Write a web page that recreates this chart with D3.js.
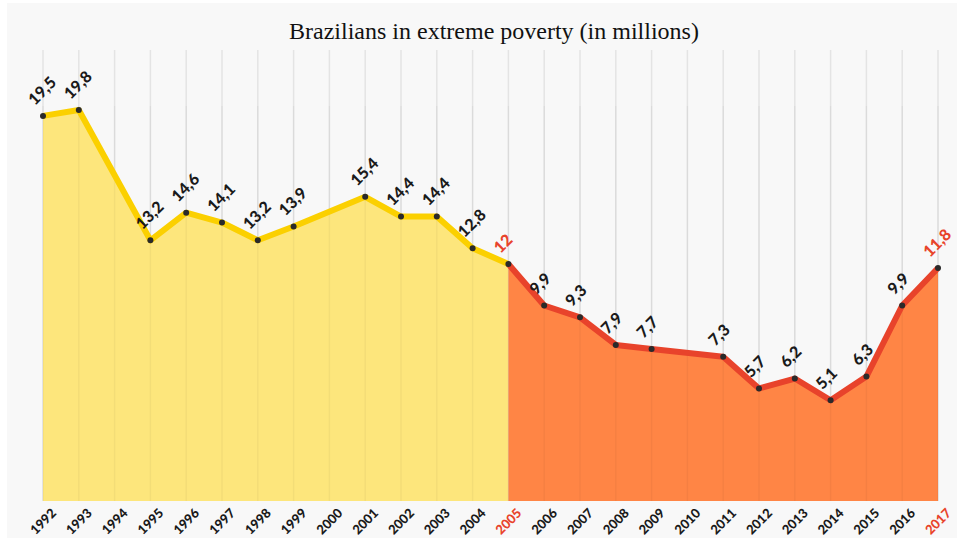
<!DOCTYPE html>
<html>
<head>
<meta charset="utf-8">
<script src="https://cdn.jsdelivr.net/npm/d3@7"></script>
<style>
  body { margin: 0; background: #ffffff; }
  #chart { width: 964px; height: 545px; }
</style>
</head>
<body>
<div id="chart"></div>
<script>
// years shown on the axis (every year has a grid line)
let tickYears = d3.range(1992, 2018)
// years with a measured value (1994, 2000 and 2010 have none)
let years = [1992, 1993, 1995, 1996, 1997, 1998, 1999, 2001, 2002, 2003, 2004, 2005,
  2006, 2007, 2008, 2009, 2011, 2012, 2013, 2014, 2015, 2016, 2017]
let values = [19.5, 19.8, 13.2, 14.6, 14.1, 13.2, 13.9, 15.4, 14.4, 14.4, 12.8, 12,
  9.9, 9.3, 7.9, 7.7, 7.3, 5.7, 6.2, 5.1, 6.3, 9.9, 11.8]
let splitYear = 2005
let redYears = [2005, 2017]

let width = 964
let height = 545
let diag = 'matrix(0.7071,-0.7071,0.7071,0.7071,0,0)' // -45 degrees

let svg = d3.select('#chart')
  .append('svg')
    .attr('width', width)
    .attr('height', height)

// light grey panel
svg.append('rect')
  .attr('x', 7)
  .attr('y', 3)
  .attr('width', 950)
  .attr('height', 535)
  .attr('fill', '#f8f8f8')

let xScale = d3.scaleLinear().domain([1992, 2017]).range([43, 938])
let yScale = d3.scaleLinear().domain([0, 20]).range([501, 106])

let data = years.map((y, i) => { return { year: y, value: values[i] } })
let firstPart = data.filter((d) => d.year <= splitYear)
let secondPart = data.filter((d) => d.year >= splitYear)

// Title
svg.append('text')
  .attr('x', 494)
  .attr('y', 39)
  .attr('text-anchor', 'middle')
  .attr('font-family', 'Liberation Serif, Times New Roman, serif')
  .attr('font-size', 24)
  .attr('fill', '#111')
  .text('Brazilians in extreme poverty (in millions)')

// Grid lines
svg.append('g')
  .selectAll('line')
  .data(tickYears)
  .enter().append('line')
    .attr('x1', (d) => xScale(d))
    .attr('x2', (d) => xScale(d))
    .attr('y1', 50)
    .attr('y2', yScale(0))
    .attr('stroke', '#e4e4e4')
    .attr('stroke-width', 1.5)

let area = d3.area()
  .x((d) => xScale(d.year))
  .y0(yScale(0))
  .y1((d) => yScale(d.value))

let line = d3.line()
  .x((d) => xScale(d.year))
  .y((d) => yScale(d.value))

svg.append('path')
  .datum(firstPart)
  .attr('d', area)
  .attr('fill', '#fde67c')

svg.append('path')
  .datum(secondPart)
  .attr('d', area)
  .attr('fill', '#ff8545')

// grid lines show faintly through the fill
svg.append('g')
  .selectAll('line')
  .data(tickYears)
  .enter().append('line')
    .attr('x1', (d) => xScale(d))
    .attr('x2', (d) => xScale(d))
    .attr('y1', yScale(20))
    .attr('y2', yScale(0))
    .attr('stroke', '#000')
    .attr('stroke-opacity', 0.04)
    .attr('stroke-width', 1.5)

svg.append('path')
  .datum(firstPart)
  .attr('d', line)
  .attr('fill', 'none')
  .attr('stroke', '#fbd000')
  .attr('stroke-width', 6)
  .attr('stroke-linejoin', 'round')

svg.append('path')
  .datum(secondPart)
  .attr('d', line)
  .attr('fill', 'none')
  .attr('stroke', '#e8432b')
  .attr('stroke-width', 6)
  .attr('stroke-linejoin', 'round')

// Points
svg.append('g')
  .selectAll('circle')
  .data(data)
  .enter().append('circle')
    .attr('cx', (d) => xScale(d.year))
    .attr('cy', (d) => yScale(d.value))
    .attr('r', 3)
    .attr('fill', '#2a2a2a')

// Value labels
svg.append('g')
  .selectAll('g')
  .data(data)
  .enter().append('g')
    .attr('transform', (d) => `translate(${xScale(d.year) - 8},${yScale(d.value) - 10})`)
  .append('text')
    .attr('transform', diag)
    .attr('font-family', 'Lato, Noto Sans, sans-serif')
    .attr('font-weight', 900)
    .attr('font-size', 16)
    .attr('fill', (d) => redYears.indexOf(d.year) !== -1 ? '#e8432b' : '#1a1a1a')
    .text((d) => String(d.value).replace('.', ','))

// X axis labels
svg.append('g')
  .selectAll('g')
  .data(tickYears)
  .enter().append('g')
    .attr('transform', (d) => `translate(${xScale(d) + 14},${yScale(0) + 13})`)
  .append('text')
    .attr('transform', diag)
    .attr('text-anchor', 'end')
    .attr('font-family', 'Lato, Noto Sans, sans-serif')
    .attr('font-weight', 900)
    .attr('font-size', 13)
    .attr('fill', (d) => redYears.indexOf(d) !== -1 ? '#e8432b' : '#1a1a1a')
    .text((d) => d)
</script>
</body>
</html>
